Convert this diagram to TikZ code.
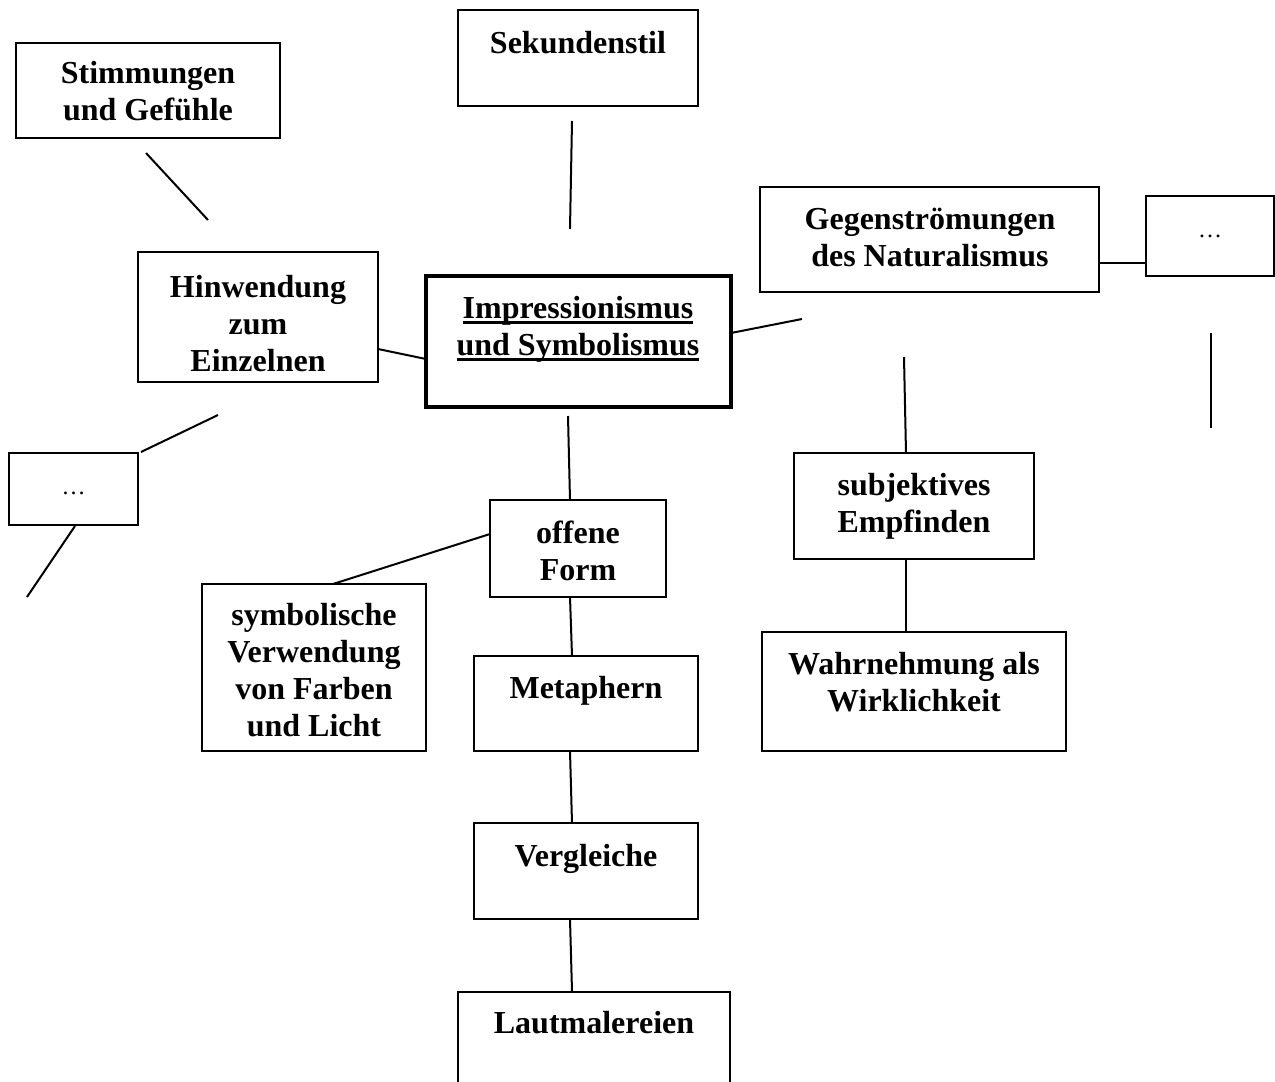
\documentclass[tikz,border=0pt]{standalone}
\usepackage{fontspec}
\setmainfont{Liberation Serif}
\newcommand\myul[1]{\setbox0\hbox{#1}\rlap{\rule[-6pt]{\wd0}{3pt}}\box0}
\tikzset{
  box/.style={draw, line width=2pt, rectangle, inner sep=0pt},
  lbl/.style={font=\fontsize{32}{37}\selectfont\bfseries, align=center, anchor=base, inner sep=0pt},
  dotlbl/.style={font=\fontsize{24}{28}\selectfont, anchor=base, inner sep=0pt},
  con/.style={line width=2pt},
}
\begin{document}
\begin{tikzpicture}[x=1pt,y=-1pt]
\useasboundingbox (0,0) rectangle (1275,1082);
\clip (0,0) rectangle (1275,1082);
% boxes
\node[box, minimum width=264pt, minimum height=95pt] (stim) at (148,90.5) {};
\node[box, minimum width=240pt, minimum height=96pt] (sek) at (578,58) {};
\node[box, minimum width=240pt, minimum height=130pt] (hin) at (258,317) {};
\node[box, line width=4pt, minimum width=305pt, minimum height=131pt] (imp) at (578.5,341.5) {};
\node[box, minimum width=339pt, minimum height=105pt] (gegen) at (929.5,239.5) {};
\node[box, minimum width=128pt, minimum height=80pt] (dotsR) at (1210,236) {};
\node[box, minimum width=129pt, minimum height=72pt] (dotsL) at (73.5,489) {};
\node[box, minimum width=176pt, minimum height=97pt] (off) at (578,548.5) {};
\node[box, minimum width=224pt, minimum height=167pt] (sym) at (314,667.5) {};
\node[box, minimum width=224pt, minimum height=95pt] (met) at (586,703.5) {};
\node[box, minimum width=240pt, minimum height=106pt] (subj) at (914,506) {};
\node[box, minimum width=304pt, minimum height=119pt] (wahr) at (914,691.5) {};
\node[box, minimum width=224pt, minimum height=96pt] (verg) at (586,871) {};
\node[box, minimum width=272pt, minimum height=118pt] (laut) at (594,1051) {};
% texts (anchor = baseline of the last line)
\node[lbl] (stimT) at (148,120) {Stimmungen\\und Gefühle};
\node[lbl] (sekT) at (578,53) {Sekundenstil};
\node[lbl] (hinT) at (258,371) {Hinwendung\\zum\\Einzelnen};
\node[lbl] (impT) at (578,355) {\myul{Impressionismus}\\\myul{und Symbolismus}};
\node[lbl] (gegenT) at (930,266) {Gegenströmungen\\des Naturalismus};
\node[dotlbl] (dotsRT) at (1210,237) {…};
\node[dotlbl] (dotsLT) at (73.5,494) {…};
\node[lbl] (offT) at (578,580) {offene\\Form};
\node[lbl] (symT) at (314,736) {symbolische\\Verwendung\\von Farben\\und Licht};
\node[lbl] (metT) at (586,698) {Metaphern};
\node[lbl] (subjT) at (914,532) {subjektives\\Empfinden};
\node[lbl] (wahrT) at (914,711) {Wahrnehmung als\\Wirklichkeit};
\node[lbl] (vergT) at (586,866) {Vergleiche};
\node[lbl] (lautT) at (594,1033) {Lautmalereien};
% connector end points
\coordinate (a1) at (146,153); \coordinate (b1) at (208,220);
\coordinate (a2) at (572,121); \coordinate (b2) at (570,229);
\coordinate (a3) at (378,349); \coordinate (b3) at (426,359);
\coordinate (a4) at (731,333); \coordinate (b4) at (802,319);
\coordinate (a5) at (1099,263); \coordinate (b5) at (1146,263);
\coordinate (a6) at (1211,333); \coordinate (b6) at (1211,428);
\coordinate (a7) at (218,415); \coordinate (b7) at (141,452);
\coordinate (a8) at (75,526); \coordinate (b8) at (27,597);
\coordinate (a9) at (568,416); \coordinate (b9) at (570,500);
\coordinate (a10) at (490,534); \coordinate (b10) at (333,584);
\coordinate (a11) at (570,597); \coordinate (b11) at (572,656);
\coordinate (a12) at (904,357); \coordinate (b12) at (906,453);
\coordinate (a13) at (906,559); \coordinate (b13) at (906,632);
\coordinate (a14) at (570,751); \coordinate (b14) at (572,823);
\coordinate (a15) at (570,919); \coordinate (b15) at (572,991);
\foreach \i in {1,...,15} { \draw[con] (a\i) -- (b\i); }
\end{tikzpicture}
\end{document}
